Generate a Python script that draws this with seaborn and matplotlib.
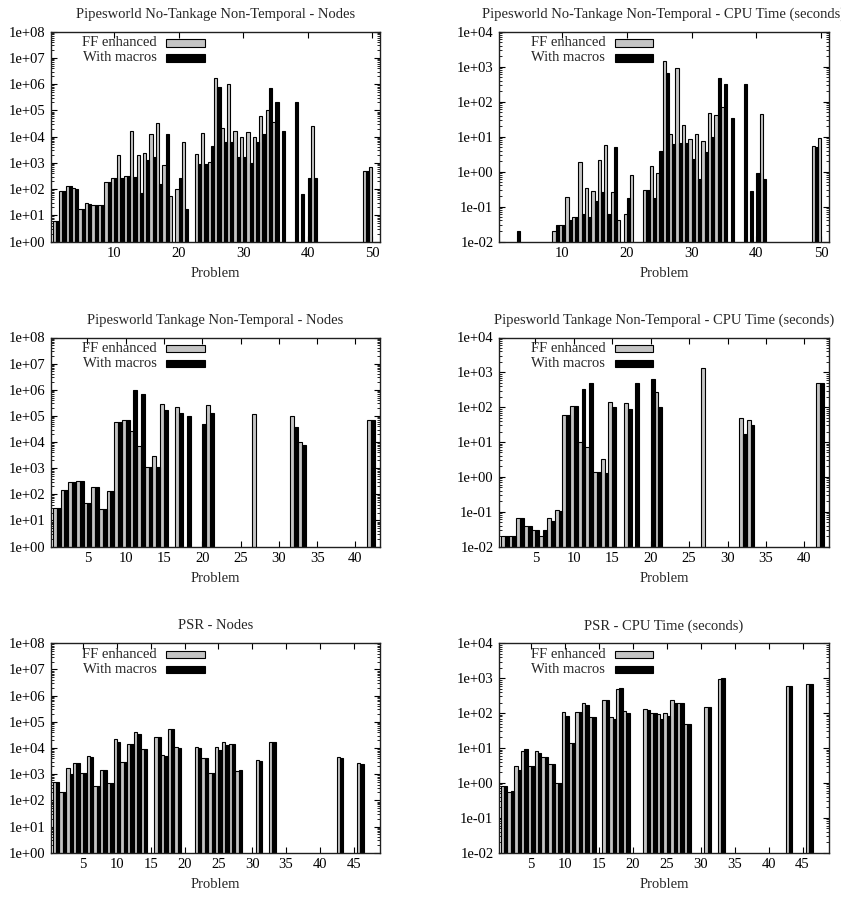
import numpy as np
import pandas as pd
import matplotlib
matplotlib.use("Agg")
import matplotlib.pyplot as plt
import seaborn as sns
from matplotlib.ticker import FixedLocator, FuncFormatter, LogLocator, NullFormatter
from matplotlib.patches import Rectangle

N = np.nan

# ---------------- data ----------------
nt_problems = list(range(1, 51))
nt_nodes_ff = [6, 85, 135, 105, 17, 30, 25, 25, 190, 255,
               2000, 320, 16000, 2000, 2300, 13000, 32000, 830, 56, 100,
               6000, N, 2100, 14000, 1100, 1.65e6, 22000, 9.7e5, 16000, 9300,
               15500, 9300, 63000, 1.0e5, 35000, N, N, N, N, N,
               26000, N, N, N, N, N, N, N, 500, 700]
nt_nodes_mac = [6, 85, 135, 100, 17, 28, 25, 25, 190, 255,
                255, 320, 300, 72, 1300, 1600, 155, 13000, N, 270,
                17, N, 870, 870, 4500, 7.6e5, 6000, 6000, 1700, 1700,
                1000, 6000, 13000, 7e5, 2.1e5, 17000, N, 2.1e5, 66, 270,
                270, N, N, N, N, N, N, N, 500, N]
nt_cpu_ff = [N, N, N, N, N, N, N, N, 0.02, 0.03,
             0.19, 0.05, 1.9, 0.33, 0.28, 2.1, 5.9, 0.26, 0.04, 0.06,
             0.8, N, 0.29, 1.4, 0.9, 1450, 12, 890, 21, 8.3,
             12, 7.4, 48, 41, 68, N, N, N, N, N,
             44, N, N, N, N, N, N, N, 5.3, 9.3]
nt_cpu_mac = [N, N, 0.02, N, N, N, N, N, 0.03, 0.03,
              0.04, 0.05, 0.06, 0.05, 0.14, 0.26, 0.06, 5.0, N, 0.17,
              N, N, 0.29, 0.18, 4.0, 670, 6.1, 6.6, 6.6, 2.3,
              0.62, 3.6, 10, 460, 310, 35, N, 330, 0.27, 0.9,
              0.62, N, N, N, N, N, N, N, 5.0, N]

tk_problems = list(range(1, 43))
tk_nodes_ff = [30, 150, 300, 310, 47, 195, 27, 130, 59000, 69000,
               26000, 6900, 1100, 2900, 2.8e5, N, 2.1e5, N, N, N,
               2.6e5, N, N, N, N, N, 1.2e5, N, N, N,
               N, 1.0e5, 10000, N, N, N, N, N, N, N,
               N, 72000]
tk_nodes_mac = [30, 150, 300, 310, 47, 195, 27, 130, 59000, 69000,
                1.0e6, 6.8e5, 1100, 1100, 1.7e5, N, 1.3e5, 98000, N, 51000,
                1.3e5, N, N, N, N, N, N, N, N, N,
                N, 38000, 8000, N, N, N, N, N, N, N,
                N, 72000]
tk_cpu_ff = [0.02, 0.02, 0.065, 0.04, 0.03, 0.02, 0.065, 0.11, 59, 107,
             10, 7.4, 1.4, 3.3, 140, N, 130, N, N, N,
             270, N, N, N, N, N, 1300, N, N, N,
             N, 48, 43, N, N, N, N, N, N, N,
             N, 480]
tk_cpu_mac = [0.02, 0.02, 0.065, 0.04, 0.03, 0.03, 0.055, 0.105, 59, 107,
              340, 510, 1.4, 1.26, 100, N, 90, 500, N, 650,
              100, N, N, N, N, N, N, N, N, N,
              N, 17, 31, N, N, N, N, N, N, N,
              N, 480]

psr_problems = list(range(1, 47))
psr_nodes_ff = [510, 200, 1650, 2600, 1070, 4900, 350, 1450, 450, 23000,
                2800, 14000, 40000, 9100, N, 26000, 5400, 54000, 11000, N,
                N, 10700, 4300, 1070, 10700, 16500, 14000, 1350, N, N,
                3500, N, 17500, N, N, N, N, N, N, N,
                N, N, 4400, N, N, 2600]
psr_nodes_mac = [520, 200, 1000, 2600, 1070, 4700, 350, 1450, 450, 16500,
                 2800, 14000, 35000, 9100, N, 26000, 4900, 54000, 10000, N,
                 N, 9800, 4300, 1070, 8300, 13000, 14500, 1400, N, N,
                 3300, N, 17500, N, N, N, N, N, N, N,
                 N, N, 4300, N, N, 2500]
psr_cpu_ff = [0.81, 0.55, 3.0, 8.4, 3.0, 8.2, 5.4, 3.4, 1.0, 105,
              14, 105, 190, 78, N, 230, 75, 490, 115, N,
              N, 128, 98, 94, 98, 235, 200, 48, N, N,
              145, N, 960, N, N, N, N, N, N, N,
              N, N, 600, N, N, 680]
psr_cpu_mac = [0.83, 0.6, 2.3, 9.2, 3.1, 7.4, 5.4, 3.5, 1.0, 81,
               14, 105, 170, 78, N, 230, 70, 540, 100, N,
               N, 122, 98, 70, 83, 190, 200, 50, N, N,
               150, N, 1000, N, N, N, N, N, N, N,
               N, N, 610, N, N, 700]

series_names = ["FF enhanced", "With macros"]
series_colors = {"FF enhanced": "#c4c4c4", "With macros": "#000000"}

titles = ["Pipesworld No-Tankage Non-Temporal - Nodes",
          "Pipesworld No-Tankage Non-Temporal - CPU Time (seconds)",
          "Pipesworld Tankage Non-Temporal - Nodes",
          "Pipesworld Tankage Non-Temporal - CPU Time (seconds)",
          "PSR - Nodes",
          "PSR - CPU Time (seconds)"]

# ---------------- style ----------------
sns.set_style("ticks")
plt.rcParams["font.family"] = ["Liberation Serif", "DejaVu Serif"]
plt.rcParams["font.size"] = 10.5
plt.rcParams["axes.linewidth"] = 1.0

W, H = 841, 899
fig = plt.figure(figsize=(W / 100, H / 100), dpi=100)


def axes_px(left, top, right, bottom):
    return fig.add_axes([left / W, 1 - bottom / H, (right - left) / W, (bottom - top) / H])


def draw(ax, problems, ff, mac, ylog, xmax, xstep, title):
    n = len(problems)
    df = pd.DataFrame({
        "Problem": list(problems) * 2,
        "value": list(ff) + list(mac),
        "series": [series_names[0]] * n + [series_names[1]] * n,
    }).dropna()
    sns.barplot(data=df, x="Problem", y="value", hue="series",
                hue_order=series_names, palette=series_colors,
                native_scale=True, width=1.0, gap=0, dodge=True,
                errorbar=None, saturation=1, edgecolor="black",
                linewidth=0.8, legend=False, ax=ax)
    ax.set_yscale("log")
    lo, hi = ylog
    ax.set_ylim(10.0 ** lo, 10.0 ** hi)
    ax.set_xlim(0.25, xmax)
    ax.yaxis.set_major_locator(FixedLocator([10.0 ** k for k in range(lo, hi + 1)]))
    ax.yaxis.set_major_formatter(FuncFormatter(lambda v, p: f"{v:.0e}"))
    ax.yaxis.set_minor_locator(LogLocator(base=10, subs=range(2, 10), numticks=40))
    ax.yaxis.set_minor_formatter(NullFormatter())
    ax.xaxis.set_major_locator(FixedLocator(list(range(xstep, int(xmax) + 1, xstep))))
    ax.xaxis.set_major_formatter(FuncFormatter(lambda v, p: f"{int(round(v))}"))
    ax.xaxis.set_minor_locator(FixedLocator([]))
    ax.tick_params(which="both", direction="in", top=True, right=True,
                   labelsize=10.5, colors="black")
    ax.tick_params(which="major", length=4, width=0.8, pad=4)
    ax.tick_params(which="minor", length=2, width=0.6)
    for s in ax.spines.values():
        s.set_color("#202020")
        s.set_linewidth(1.0)
    ax.set_xlabel("Problem", fontsize=10.5, labelpad=5)
    ax.set_ylabel("")
    ax.set_title(title, fontsize=10.5, pad=10)
    # legend (gnuplot style: text then sample box)
    for i, name in enumerate(series_names):
        yc = 0.947 - i * 0.072
        ax.text(0.322, yc, name, transform=ax.transAxes, ha="right", va="center",
                fontsize=10.5)
        ax.add_patch(Rectangle((0.350, yc - 0.018), 0.117, 0.036,
                               transform=ax.transAxes, facecolor=series_colors[name],
                               edgecolor="black", linewidth=0.8, clip_on=False))


rows = [(31.7, 241.5), (337.5, 546.5), (643.3, 852.7)]
cols = [(51, 380), (499, 829)]

panels = [
    (nt_problems, nt_nodes_ff, nt_nodes_mac, (0, 8), 51.2, 10),
    (nt_problems, nt_cpu_ff, nt_cpu_mac, (-2, 4), 51.2, 10),
    (tk_problems, tk_nodes_ff, tk_nodes_mac, (0, 8), 43.2, 5),
    (tk_problems, tk_cpu_ff, tk_cpu_mac, (-2, 4), 43.2, 5),
    (psr_problems, psr_nodes_ff, psr_nodes_mac, (0, 8), 48.9, 5),
    (psr_problems, psr_cpu_ff, psr_cpu_mac, (-2, 4), 48.9, 5),
]

for idx, (pr, ff, mac, ylog, xmax, xstep) in enumerate(panels):
    r, c = divmod(idx, 2)
    top, bottom = rows[r]
    left, right = cols[c]
    ax = axes_px(left, top, right, bottom)
    draw(ax, pr, ff, mac, ylog, xmax, xstep, titles[idx])

fig.savefig("out.png", dpi=100)
